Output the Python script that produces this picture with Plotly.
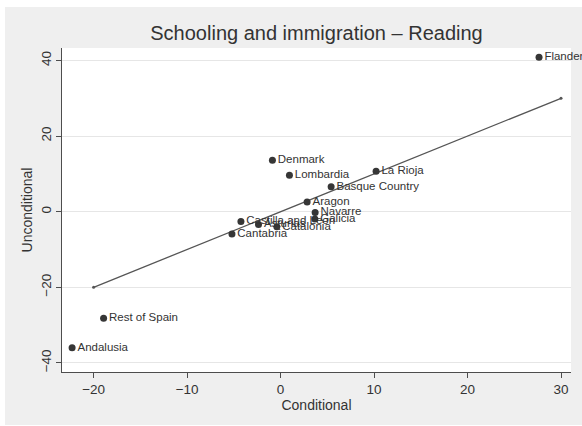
import plotly.graph_objects as go

regions = ["Flanders", "La Rioja", "Denmark", "Lombardia", "Basque Country",
           "Aragon", "Navarre", "Galicia", "Castilla and Leon", "Asturias",
           "Catalonia", "Cantabria", "Rest of Spain", "Andalusia"]
conditional = [27.65, 10.22, -0.87, 0.95, 5.41, 2.84, 3.70, 3.67, -4.24, -2.36,
               -0.40, -5.20, -18.93, -22.30]
unconditional = [40.85, 10.73, 13.6, 9.67, 6.58, 2.54, -0.18, -1.95, -2.56, -3.36,
                 -3.99, -5.92, -28.2, -35.96]

fit_x = [-20, 30]
fit_y = [-20, 30]

x_ticks = [-20, -10, 0, 10, 20, 30]
y_ticks = [-40, -20, 0, 20, 40]

FONT = "Liberation Sans, Arial, sans-serif"
DARK = "#333333"

fig = go.Figure()

fig.add_trace(go.Scatter(
    x=fit_x, y=fit_y, mode="lines+markers",
    line=dict(color="#555555", width=1.3),
    marker=dict(color="#555555", size=3),
    hoverinfo="skip", showlegend=False,
))

fig.add_trace(go.Scatter(
    x=conditional, y=unconditional, mode="markers+text",
    text=regions, textposition="middle right",
    textfont=dict(family=FONT, size=11.5, color=DARK),
    marker=dict(color="#363636", size=7),
    cliponaxis=False, showlegend=False,
))

# pixel geometry helpers for the grey outer region
W, H = 582, 426
ml, mr, mt, mb = 62, 11, 48, 54
pw, ph = W - ml - mr, H - mt - mb

def px_x(p):
    return (p - ml) / pw

def px_y(p):
    return (H - mb - p) / ph

fig.add_shape(type="rect", xref="paper", yref="paper",
              x0=px_x(5), x1=px_x(582), y0=px_y(425), y1=px_y(7),
              fillcolor="#efefef", line=dict(width=0), layer="below")
fig.add_shape(type="rect", xref="paper", yref="paper",
              x0=0, x1=1, y0=0, y1=1,
              fillcolor="white", line=dict(width=0), layer="below")

axis_common = dict(
    showline=True, linecolor="#4d4d4d", linewidth=1,
    ticks="outside", ticklen=5, tickcolor="#4d4d4d", tickwidth=1,
    tickfont=dict(family=FONT, size=13.5, color=DARK),
    zeroline=False, mirror=False,
)

fig.update_layout(
    width=W, height=H,
    margin=dict(l=ml, r=mr, t=mt, b=mb),
    paper_bgcolor="white", plot_bgcolor="white",
    title=dict(text="Schooling and immigration – Reading",
               font=dict(family=FONT, size=20, color=DARK),
               x=0.5, xref="paper", xanchor="center",
               y=1 - 33 / H, yref="container", yanchor="middle"),
    xaxis=dict(range=[-23.38, 31.07], tickvals=x_ticks, showgrid=False,
               title=dict(text="Conditional", standoff=3,
                          font=dict(family=FONT, size=14, color=DARK)),
               **axis_common),
    yaxis=dict(range=[-42.4, 43.3], tickvals=y_ticks, showgrid=True,
               gridcolor="#e6e6e6", gridwidth=1, tickangle=-90,
               title=dict(text="Unconditional", standoff=2,
                          font=dict(family=FONT, size=14, color=DARK)),
               **axis_common),
)

fig.write_html("out.html",
               config={"displayModeBar": False},
               post_script="document.body.style.margin='0';document.body.style.overflow='hidden';")
